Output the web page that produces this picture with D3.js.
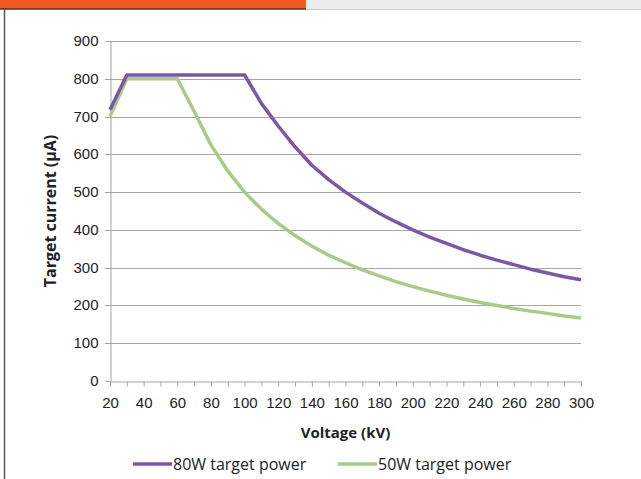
<!DOCTYPE html>
<html>
<head>
<meta charset="utf-8">
<script src="https://cdn.jsdelivr.net/npm/d3@7"></script>
<style>
  html, body { margin: 0; padding: 0; background: #fff; }
  svg { display: block; font-family: "Open Sans", Lato, sans-serif; }
</style>
</head>
<body>
<svg id="chart"></svg>
<script>
// Voltage categories (kV)
const voltages = [20, 30, 40, 50, 60, 70, 80, 90, 100, 110, 120, 130, 140, 150, 160,
  170, 180, 190, 200, 210, 220, 230, 240, 250, 260, 270, 280, 290, 300]

// Target current (µA)
const current80W = [718, 810, 810, 810, 810, 810, 810, 810, 810, 735, 675, 620, 571, 533, 500,
  471, 444, 421, 400, 381, 364, 348, 333, 320, 308, 296, 286, 276, 268]
const current50W = [700, 800, 800, 800, 800, 714, 625, 556, 500, 455, 417, 385, 357, 333, 313,
  294, 278, 263, 250, 238, 227, 217, 208, 200, 192, 185, 179, 172, 167]

const yTicks = [0, 100, 200, 300, 400, 500, 600, 700, 800, 900]
const xLabels = [20, 40, 60, 80, 100, 120, 140, 160, 180, 200, 220, 240, 260, 280, 300]

const series = [
  { name: '80W target power', values: current80W, color: '#7b58a6' },
  { name: '50W target power', values: current50W, color: '#a9cb85' }
]

const width = 641
const height = 479

const svg = d3.select('#chart')
  .attr('width', width)
  .attr('height', height)

// page frame: orange tab, grey strip, border
svg.append('rect').attr('x', 0).attr('y', 0).attr('width', width).attr('height', 9).attr('fill', '#ececec')
svg.append('rect').attr('x', 0).attr('y', 0).attr('width', 306).attr('height', 9).attr('fill', '#f05a22')
svg.append('line').attr('x1', 0).attr('x2', 306).attr('y1', 9).attr('y2', 9).attr('stroke', '#5a3020').attr('stroke-width', 1.5)
svg.append('line').attr('x1', 306).attr('x2', width).attr('y1', 9.5).attr('y2', 9.5).attr('stroke', '#c8c8c8').attr('stroke-width', 1)
svg.append('line').attr('x1', 4.5).attr('x2', 4.5).attr('y1', 9).attr('y2', height).attr('stroke', '#555').attr('stroke-width', 1.5)

const margin = { left: 110, right: 60, top: 41, bottom: 98 }

const x = d3.scaleLinear()
  .domain([20, 300])
  .range([margin.left, width - margin.right])

const y = d3.scaleLinear()
  .domain([0, 900])
  .range([height - margin.bottom, margin.top])

// horizontal gridlines
svg.append('g')
  .selectAll('line')
  .data(yTicks.filter(d => d > 0))
  .join('line')
  .attr('x1', margin.left - 5)
  .attr('x2', x(300))
  .attr('y1', d => Math.round(y(d)) + 0.5)
  .attr('y2', d => Math.round(y(d)) + 0.5)
  .attr('stroke', '#a6a6a6')

// y axis
const yAxis = svg.append('g')
  .attr('transform', `translate(${margin.left + 0.5},0)`)
  .call(d3.axisLeft(y).tickValues(yTicks).tickSize(5).tickSizeOuter(0).tickPadding(7))
yAxis.select('.domain').attr('stroke', '#a6a6a6')
yAxis.selectAll('.tick line').attr('stroke', '#a6a6a6')
yAxis.selectAll('.tick text').attr('font-size', 15).attr('fill', '#222')
yAxis.selectAll('.tick').attr('transform', d => `translate(0,${Math.round(y(d)) + 0.5})`)

// x axis
const xAxis = svg.append('g')
  .attr('transform', `translate(0,${Math.round(y(0)) + 0.5})`)
  .call(d3.axisBottom(x).tickValues(voltages).tickSize(5).tickSizeOuter(0).tickPadding(11)
    .tickFormat(d => xLabels.includes(d) ? d : ''))
xAxis.select('.domain').attr('stroke', '#a6a6a6')
xAxis.selectAll('.tick line').attr('stroke', '#a6a6a6')
xAxis.selectAll('.tick text').attr('font-size', 15).attr('fill', '#222')

// axis titles
svg.append('text')
  .attr('x', x(160))
  .attr('y', 438)
  .attr('text-anchor', 'middle')
  .attr('font-size', 15)
  .attr('font-weight', 'bold')
  .attr('fill', '#222')
  .text('Voltage (kV)')

svg.append('text')
  .attr('transform', `translate(56,${y(450)}) rotate(-90)`)
  .attr('text-anchor', 'middle')
  .attr('font-size', 16)
  .attr('font-weight', 'bold')
  .attr('fill', '#222')
  .text('Target current (µA)')

// lines
const line = d3.line()
  .x((d, i) => x(voltages[i]))
  .y(d => y(d))

svg.append('g')
  .selectAll('path')
  .data(series.slice().reverse())
  .join('path')
  .attr('d', d => line(d.values))
  .attr('fill', 'none')
  .attr('stroke', d => d.color)
  .attr('stroke-width', 3.5)
  .attr('stroke-linejoin', 'round')

// legend
const legend = svg.append('g')
  .selectAll('g')
  .data(series)
  .join('g')
  .attr('transform', (d, i) => `translate(${133 + i * 205},464)`)

legend.append('line')
  .attr('x1', 0).attr('x2', 39)
  .attr('stroke', d => d.color)
  .attr('stroke-width', 3.5)

legend.append('text')
  .attr('x', 40)
  .attr('dy', '0.35em')
  .attr('font-size', 16)
  .attr('fill', '#222')
  .text(d => d.name)
</script>
</body>
</html>
